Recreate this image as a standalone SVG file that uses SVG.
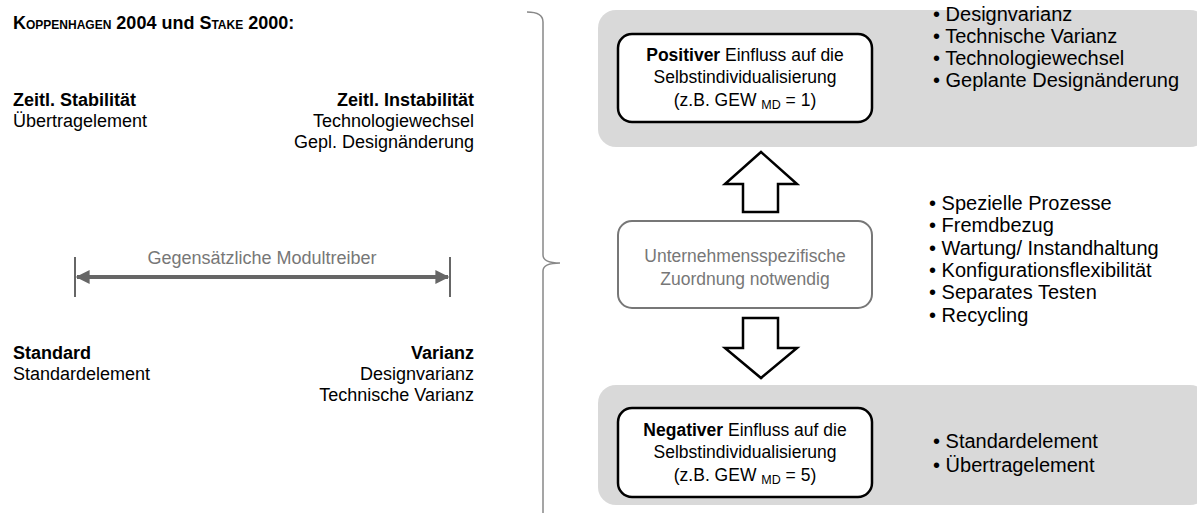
<svg xmlns="http://www.w3.org/2000/svg" width="1197" height="513" viewBox="0 0 1197 513">
  <style>
    text { font-family: "Liberation Sans", Arial, sans-serif; font-size: 18px; fill: #000; }
    .b { font-weight: bold; }
    .gray { fill: #777; }
    .mid { text-anchor: middle; }
    .end { text-anchor: end; }
    .inbox { font-size: 17.5px; }
    .bullet { font-size: 20px; }
    .panel { fill: #d9d9d9; }
    .box { fill: #fff; stroke: #000; stroke-width: 2.5; }
    .boxg { fill: #fff; stroke: #777; stroke-width: 2; }
    .bigarrow { fill: #fff; stroke: #000; stroke-width: 2.5; stroke-linejoin: miter; }
  </style>
  <defs>
    <marker id="ah" viewBox="0 0 10 10" refX="9" refY="5" markerWidth="5" markerHeight="3.5" orient="auto-start-reverse" markerUnits="strokeWidth">
      <path d="M0,0 L10,5 L0,10 Z" fill="#666"/>
    </marker>
  </defs>

  <rect width="1197" height="513" fill="#fff"/>

  <!-- left: sources and opposing module drivers -->
  <g id="sources">
    <text x="13" y="29" class="b" font-size="15.5">K<tspan font-size="12">OPPENHAGEN</tspan> 2004 und S<tspan font-size="12">TAKE</tspan> 2000:</text>
  </g>
  <g id="stability">
    <text x="13" y="106" class="b">Zeitl. Stabilität</text>
    <text x="13" y="127">Übertragelement</text>
  </g>
  <g id="instability">
    <text x="474" y="106" class="b end">Zeitl. Instabilität</text>
    <text x="474" y="127" class="end">Technologiewechsel</text>
    <text x="474" y="148" class="end">Gepl. Designänderung</text>
  </g>
  <g id="opposing">
    <text x="262" y="264" class="gray mid" font-size="19">Gegensätzliche Modultreiber</text>
    <line x1="75" y1="257" x2="75" y2="297" stroke="#666" stroke-width="2"/>
    <line x1="450" y1="257" x2="450" y2="297" stroke="#666" stroke-width="2"/>
  </g>
  <g id="standard">
    <text x="13" y="359" class="b">Standard</text>
    <text x="13" y="380">Standardelement</text>
  </g>
  <g id="variance">
    <text x="474" y="359" class="b end">Varianz</text>
    <text x="474" y="380" class="end">Designvarianz</text>
    <text x="474" y="401" class="end">Technische Varianz</text>
  </g>

  <!-- right: classification -->
  <g id="positive">
    <rect x="598" y="10" width="610" height="137" rx="18" class="panel"/>
    <rect x="618" y="34" width="254" height="88" rx="14" class="box"/>
    <text x="745" y="61" class="mid inbox"><tspan class="b">Positiver</tspan> Einfluss auf die</text>
    <text x="745" y="83" class="mid inbox">Selbstindividualisierung</text>
    <text x="745" y="106" class="mid inbox">(z.B. GEW <tspan font-size="12.5" dy="3">MD</tspan><tspan dy="-3"> = 1)</tspan></text>
    <text x="933" y="21" class="bullet">• Designvarianz</text>
    <text x="933" y="43" class="bullet">• Technische Varianz</text>
    <text x="933" y="65" class="bullet">• Technologiewechsel</text>
    <text x="933" y="87" class="bullet">• Geplante Designänderung</text>
  </g>

  <g id="specific">
    <rect x="618" y="221" width="254" height="87" rx="14" class="boxg"/>
    <text x="745" y="262" class="gray mid inbox">Unternehmensspezifische</text>
    <text x="745" y="285" class="gray mid inbox">Zuordnung notwendig</text>
    <text x="929" y="210" class="bullet">• Spezielle Prozesse</text>
    <text x="929" y="232" class="bullet">• Fremdbezug</text>
    <text x="929" y="255" class="bullet">• Wartung/ Instandhaltung</text>
    <text x="929" y="277" class="bullet">• Konfigurationsflexibilität</text>
    <text x="929" y="299" class="bullet">• Separates Testen</text>
    <text x="929" y="322" class="bullet">• Recycling</text>
  </g>

  <g id="negative">
    <rect x="598" y="385" width="610" height="120" rx="18" class="panel"/>
    <rect x="618" y="408" width="254" height="89" rx="14" class="box"/>
    <text x="745" y="436" class="mid inbox"><tspan class="b">Negativer</tspan> Einfluss auf die</text>
    <text x="745" y="458" class="mid inbox">Selbstindividualisierung</text>
    <text x="745" y="481" class="mid inbox">(z.B. GEW <tspan font-size="12.5" dy="3">MD</tspan><tspan dy="-3"> = 5)</tspan></text>
    <text x="933" y="448" class="bullet">• Standardelement</text>
    <text x="933" y="472" class="bullet">• Übertragelement</text>
  </g>

  <!-- connectors -->
  <g id="connectors">
    <line x1="77" y1="277" x2="448" y2="277" stroke="#666" stroke-width="4" marker-start="url(#ah)" marker-end="url(#ah)"/>
    <path d="M527,12 Q543,12 543,22 L543,255 Q543,263 560,263 Q543,263 543,271 L543,513" fill="none" stroke="#888" stroke-width="1.5"/>
    <polygon points="761,152 797,184 778,184 778,212 743,212 743,184 725,184" class="bigarrow"/>
    <polygon points="743,318 778,318 778,348 797,348 761,378 725,348 743,348" class="bigarrow"/>
  </g>
</svg>
